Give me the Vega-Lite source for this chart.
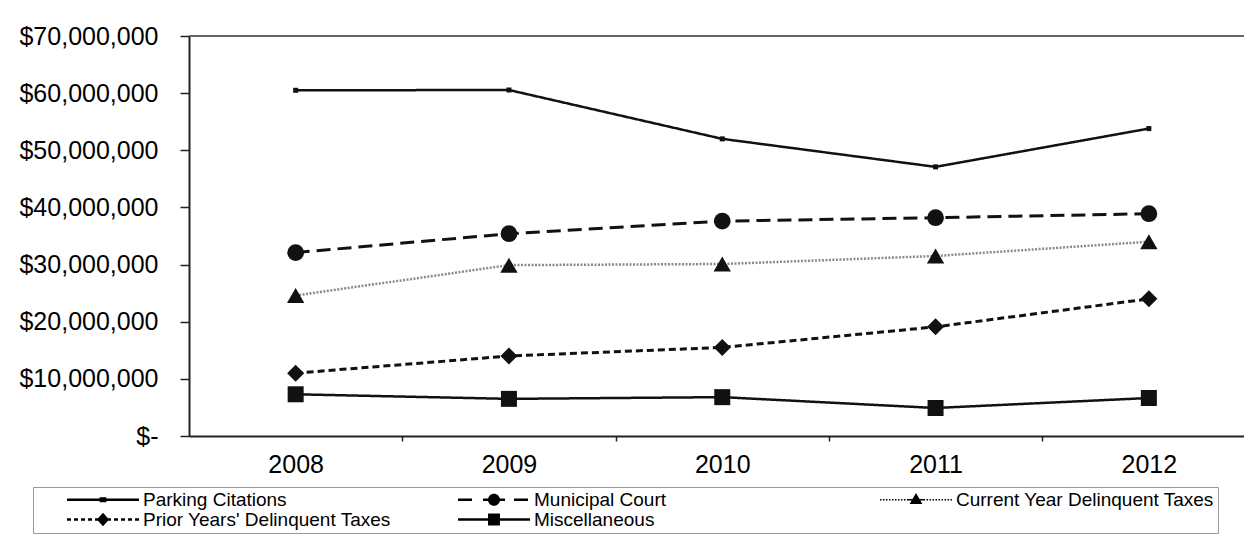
{
  "$schema": "https://vega.github.io/schema/vega-lite/v6.json",
  "autosize": {"type": "none"},
  "padding": {"left": 189, "top": 36, "right": 0, "bottom": 107},
  "width": 1055,
  "height": 400,
  "background": "white",
  "config": {
    "view": {"stroke": null},
    "font": "Liberation Sans",
    "axis": {"labelFont": "Liberation Sans", "labelColor": "black", "grid": false, "domainColor": "#222", "domainWidth": 2, "tickColor": "#222", "tickWidth": 1.5, "title": null}
  },
  "data": {
    "values": [
      {"year": 2008, "series": "Parking Citations", "value": 60500000},
      {"year": 2009, "series": "Parking Citations", "value": 60550000},
      {"year": 2010, "series": "Parking Citations", "value": 52000000},
      {"year": 2011, "series": "Parking Citations", "value": 47100000},
      {"year": 2012, "series": "Parking Citations", "value": 53800000},
      {"year": 2008, "series": "Municipal Court", "value": 32100000},
      {"year": 2009, "series": "Municipal Court", "value": 35400000},
      {"year": 2010, "series": "Municipal Court", "value": 37600000},
      {"year": 2011, "series": "Municipal Court", "value": 38200000},
      {"year": 2012, "series": "Municipal Court", "value": 38900000},
      {"year": 2008, "series": "Current Year Delinquent Taxes", "value": 24600000},
      {"year": 2009, "series": "Current Year Delinquent Taxes", "value": 29900000},
      {"year": 2010, "series": "Current Year Delinquent Taxes", "value": 30100000},
      {"year": 2011, "series": "Current Year Delinquent Taxes", "value": 31500000},
      {"year": 2012, "series": "Current Year Delinquent Taxes", "value": 34000000},
      {"year": 2008, "series": "Prior Years' Delinquent Taxes", "value": 11000000},
      {"year": 2009, "series": "Prior Years' Delinquent Taxes", "value": 14000000},
      {"year": 2010, "series": "Prior Years' Delinquent Taxes", "value": 15500000},
      {"year": 2011, "series": "Prior Years' Delinquent Taxes", "value": 19100000},
      {"year": 2012, "series": "Prior Years' Delinquent Taxes", "value": 24000000},
      {"year": 2008, "series": "Miscellaneous", "value": 7300000},
      {"year": 2009, "series": "Miscellaneous", "value": 6500000},
      {"year": 2010, "series": "Miscellaneous", "value": 6800000},
      {"year": 2011, "series": "Miscellaneous", "value": 4900000},
      {"year": 2012, "series": "Miscellaneous", "value": 6650000}
    ]
  },
  "layer": [
    {
      "data": {"values": [{"top": 70000000}]},
      "mark": {"type": "rule", "color": "#333", "strokeWidth": 1.5},
      "encoding": {"y": {"field": "top", "type": "quantitative"}}
    },
    {
      "mark": {"type": "line"},
      "encoding": {
        "x": {"field": "year", "type": "quantitative", "scale": {"domain": [2007.5, 2012.446], "nice": false, "zero": false},
          "axis": {"values": [2008, 2009, 2010, 2011, 2012], "format": "d", "tickOffset": 106.65, "labelOffset": -106.65, "tickSize": 5, "labelPadding": 11, "labelFontSize": 25, "labelFlush": false}},
        "y": {"field": "value", "type": "quantitative", "scale": {"domain": [0, 70000000], "nice": false},
          "axis": {"values": [0, 10000000, 20000000, 30000000, 40000000, 50000000, 60000000, 70000000], "labelExpr": "datum.value == 0 ? '$-' : '$' + format(datum.value, ',')", "tickSize": 9, "labelPadding": 22, "labelFontSize": 25}},
        "stroke": {"field": "series", "type": "nominal", "scale": {"domain": ["Parking Citations", "Municipal Court", "Current Year Delinquent Taxes", "Prior Years' Delinquent Taxes", "Miscellaneous"], "range": ["#111", "#111", "#8a8a8a", "#111", "#111"]}, "legend": null},
        "strokeDash": {"field": "series", "type": "nominal", "scale": {"domain": ["Parking Citations", "Municipal Court", "Current Year Delinquent Taxes", "Prior Years' Delinquent Taxes", "Miscellaneous"], "range": [[1, 0], [14, 7], [2, 1.5], [7, 4], [1, 0]]}, "legend": null},
        "strokeWidth": {"field": "series", "type": "nominal", "scale": {"type": "ordinal", "domain": ["Parking Citations", "Municipal Court", "Current Year Delinquent Taxes", "Prior Years' Delinquent Taxes", "Miscellaneous"], "range": [2.5, 3, 2.5, 3, 2.5]}, "legend": null}
      }
    },
    {
      "mark": {"type": "point", "filled": true, "opacity": 1, "color": "#111"},
      "encoding": {
        "x": {"field": "year", "type": "quantitative"},
        "y": {"field": "value", "type": "quantitative"},
        "shape": {"field": "series", "type": "nominal", "scale": {"domain": ["Parking Citations", "Municipal Court", "Current Year Delinquent Taxes", "Prior Years' Delinquent Taxes", "Miscellaneous"], "range": ["square", "circle", "triangle-up", "diamond", "square"]}, "legend": null},
        "size": {"field": "series", "type": "nominal", "scale": {"type": "ordinal", "domain": ["Parking Citations", "Municipal Court", "Current Year Delinquent Taxes", "Prior Years' Delinquent Taxes", "Miscellaneous"], "range": [25, 280, 300, 290, 256]}, "legend": null}
      }
    },
    {
      "transform": [{"filter": "false"}],
      "mark": {"type": "point", "filled": true, "opacity": 1, "color": "black"},
      "encoding": {
        "x": {"field": "year", "type": "quantitative"},
        "y": {"field": "value", "type": "quantitative"},
        "shape": {"field": "series", "type": "nominal",
          "scale": {"domain": ["Parking Citations", "Municipal Court", "Current Year Delinquent Taxes", "Prior Years' Delinquent Taxes", "Miscellaneous"],
            "range": [
              "M-7.882,0M38.0,0M-4.235,-0.14H4.235V0.14H-4.235ZM-0.4,-0.3H0.4V0.3H-0.4Z",
              "M-7.882,0M41.53,0M-4.235,-0.16H-2.588V0.16H-4.235ZM-1.294,-0.16H1.294V0.16H-1.294ZM2.353,-0.16H4.0V0.16H2.353ZM0.706,0A0.706,0.706,0,1,1,-0.706,0A0.706,0.706,0,1,1,0.706,0Z",
              "M-7.882,0M-4.235,-0.09H-4.059V0.09H-4.235ZM-3.882,-0.09H-3.706V0.09H-3.882ZM-3.529,-0.09H-3.353V0.09H-3.529ZM-3.176,-0.09H-3.0V0.09H-3.176ZM-2.823,-0.09H-2.647V0.09H-2.823ZM-2.47,-0.09H-2.294V0.09H-2.47ZM-2.117,-0.09H-1.941V0.09H-2.117ZM-1.764,-0.09H-1.588V0.09H-1.764ZM-1.411,-0.09H-1.235V0.09H-1.411ZM-1.058,-0.09H-0.882V0.09H-1.058ZM0.882,-0.09H1.058V0.09H0.882ZM1.235,-0.09H1.411V0.09H1.235ZM1.588,-0.09H1.764V0.09H1.588ZM1.941,-0.09H2.117V0.09H1.941ZM2.294,-0.09H2.47V0.09H2.294ZM2.647,-0.09H2.823V0.09H2.647ZM3.0,-0.09H3.176V0.09H3.0ZM3.353,-0.09H3.529V0.09H3.353ZM3.706,-0.09H3.882V0.09H3.706ZM4.059,-0.09H4.235V0.09H4.059ZM-1.0,-0.09H1.0V0.09H-1.0ZM0,-0.8L0.75,0.5L-0.75,0.5Z",
              "M-7.882,0M38.0,0M-4.235,-0.15H-3.765V0.15H-4.235ZM-3.412,-0.15H-2.941V0.15H-3.412ZM-2.588,-0.15H-2.118V0.15H-2.588ZM-1.765,-0.15H-1.294V0.15H-1.765ZM-0.941,-0.15H0.941V0.15H-0.941ZM1.294,-0.15H1.765V0.15H1.294ZM2.118,-0.15H2.588V0.15H2.118ZM2.941,-0.15H3.412V0.15H2.941ZM3.765,-0.15H4.235V0.15H3.765ZM0,-0.8L0.72,0L0,0.8L-0.72,0Z",
              "M-7.882,0M41.53,0M-4.235,-0.15H4.235V0.15H-4.235ZM-0.7,-0.7H0.7V0.7H-0.7Z"
            ]},
          "legend": {
            "orient": "none", "legendX": -156, "legendY": 451, "direction": "horizontal",
            "title": null, "columns": 3, "gridAlign": "each", "columnPadding": 1, "rowPadding": -1,
            "padding": 3, "strokeColor": "#9a9a9a", "fillColor": "white",
            "labelFont": "Liberation Sans", "labelFontSize": 19, "labelColor": "black", "labelLimit": 500,
            "symbolSize": 289, "symbolStrokeWidth": 0, "symbolOffset": 57.5, "labelOffset": 30.5,
            "symbolFillColor": "black",
            "encode": {
              "symbols": {
                "fill": {"value": "black"},
                "opacity": {"value": 1},
                "strokeWidth": {"value": 0}
              }
            }
          }
        }
      }
    }
  ],
  "resolve": {"scale": {"shape": "independent"}}
}
